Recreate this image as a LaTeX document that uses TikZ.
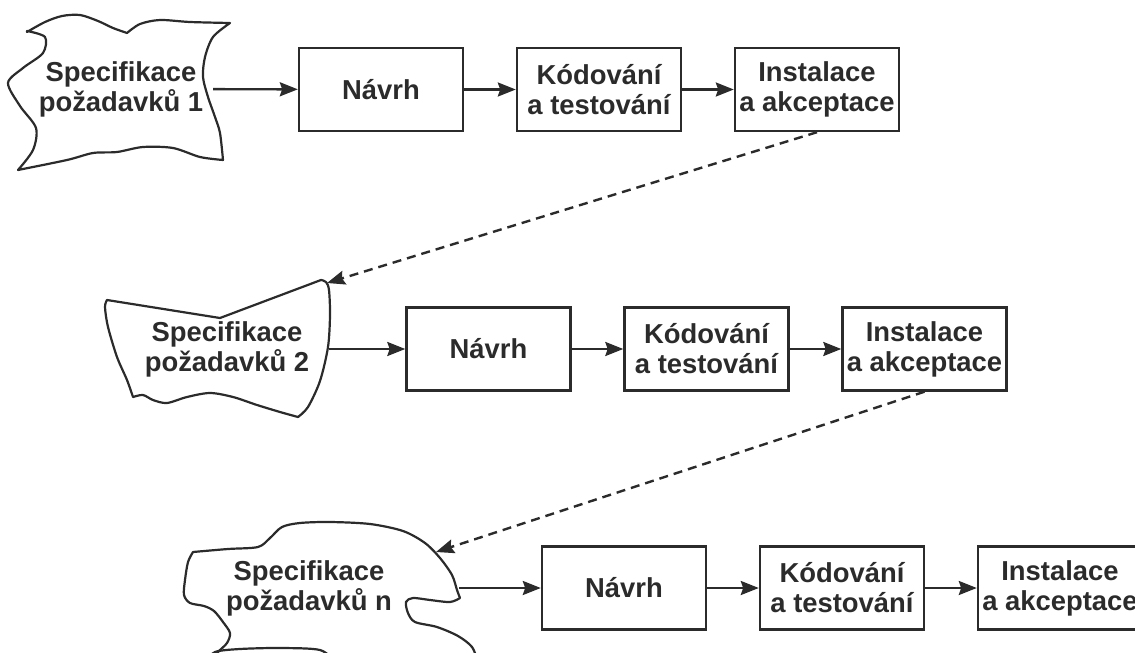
\documentclass[tikz,border=0pt]{standalone}
\usepackage{fontspec}
\setmainfont{Liberation Sans}
\usepackage{tikz}
\usetikzlibrary{positioning,arrows.meta}
\definecolor{ink}{HTML}{2B2B2B}

\begin{document}
\begin{tikzpicture}[x=0.5pt, y=-0.5pt,
node distance=109pt, color=ink, line width=1.2pt,
box/.style={rectangle, draw=ink, line width=1.2pt, minimum width=82pt, minimum height=41.5pt, inner xsep=2pt, align=center},
spec/.style={align=center, inner sep=0pt},
blob/.style={draw=ink, line width=1.1pt, line join=round},
arr/.style={-{Stealth[length=9pt,width=7pt,inset=1.2pt]}, line width=1.2pt},
back/.style={arr, dash pattern=on 4.5pt off 3pt}]
\tikzstyle{every node}=[font=\bfseries\fontsize{13.7}{15}\selectfont, text=ink]
\clip (0,0) rectangle (1135,653);

\draw[blob] plot[smooth] coordinates {(27,32) (45,22) (62,16) (80,15) (98,21) (113,28) (127,33)}
  -- plot[smooth] coordinates {(127,33) (140,24) (160,20) (190,22) (230,23)}
  -- plot[smooth] coordinates {(230,23) (213,37) (205,57) (203,77) (208,97) (215,117) (220,133) (223,160)}
  -- plot[smooth] coordinates {(223,160) (200,157) (173,148) (143,147) (117,152) (93,153) (67,160) (18,170)}
  -- plot[smooth] coordinates {(18,170) (33,150) (36,128) (20,106) (8,83) (23,68) (43,53) (45,37) (27,31)} -- cycle;
\node[spec, minimum width=91pt] (s1) at (121,89) {Specifikace\\požadavků 1};
\node[box] (n1) at (381,89.5) {Návrh};
\node[box] (k1) [right of=n1] {Kódování\\a testování};
\node[box] (i1) [right of=k1] {Instalace\\a akceptace};

\draw[blob] (107,300) -- (220,318) -- (321,280)
  -- plot[smooth] coordinates {(321,280) (326,282) (329,290) (330,315) (328,347) (320,381) (308,407) (298,417)}
  -- plot[smooth] coordinates {(298,417) (280,412) (257,405) (233,397) (210,393) (187,397) (167,403) (153,400) (143,395) (133,397)}
  -- plot[smooth] coordinates {(133,397) (127,380) (117,357) (108,327) (105,307) (107,300)} -- cycle;
\node[spec, minimum width=101pt] (s2) at (227,349) {Specifikace\\požadavků 2};
\node[box] (n2) at (488.5,349) {Návrh};
\node[box] (k2) [right of=n2] {Kódování\\a testování};
\node[box] (i2) [right of=k2] {Instalace\\a akceptace};

\draw[blob] plot[smooth] coordinates {(210,662) (218,652) (227,643) (230,633) (223,622) (214,611) (204,606) (190,603) (184,595) (185,580) (188,562) (193,552)}
  -- plot[smooth] coordinates {(193,552) (228,549) (258,547) (270,538) (282,527) (300,523) (330,522) (370,524) (403,531) (425,543) (440,558) (452,575) (457,590) (460,598)}
  -- plot[smooth] coordinates {(460,598) (450,602) (430,600) (413,598) (406,602) (408,613) (415,622) (437,627) (458,636) (472,647) (478,662)};
\draw[blob] plot[smooth] coordinates {(205,662) (215,652) (240,649) (280,648) (320,650) (335,662)};
\node[spec, minimum width=149pt] (s3) at (309,588) {Specifikace\\požadavků n};
\node[box] (n3) at (624,588) {Návrh};
\node[box] (k3) [right of=n3] {Kódování\\a testování};
\node[box] (i3) [right of=k3] {Instalace\\a akceptace};

\coordinate (t2) at (327,283);
\coordinate (t3) at (436,552);

\draw[arr] (s1) -- (n1);
\draw[arr] (n1) -- (k1);
\draw[arr] (k1) -- (i1);
\draw[back] (i1.south) -- (t2);
\draw[arr] (s2) -- (n2);
\draw[arr] (n2) -- (k2);
\draw[arr] (k2) -- (i2);
\draw[back] (i2.south) -- (t3);
\draw[arr] (s3) -- (n3);
\draw[arr] (n3) -- (k3);
\draw[arr] (k3) -- (i3);
\end{tikzpicture}
\end{document}
